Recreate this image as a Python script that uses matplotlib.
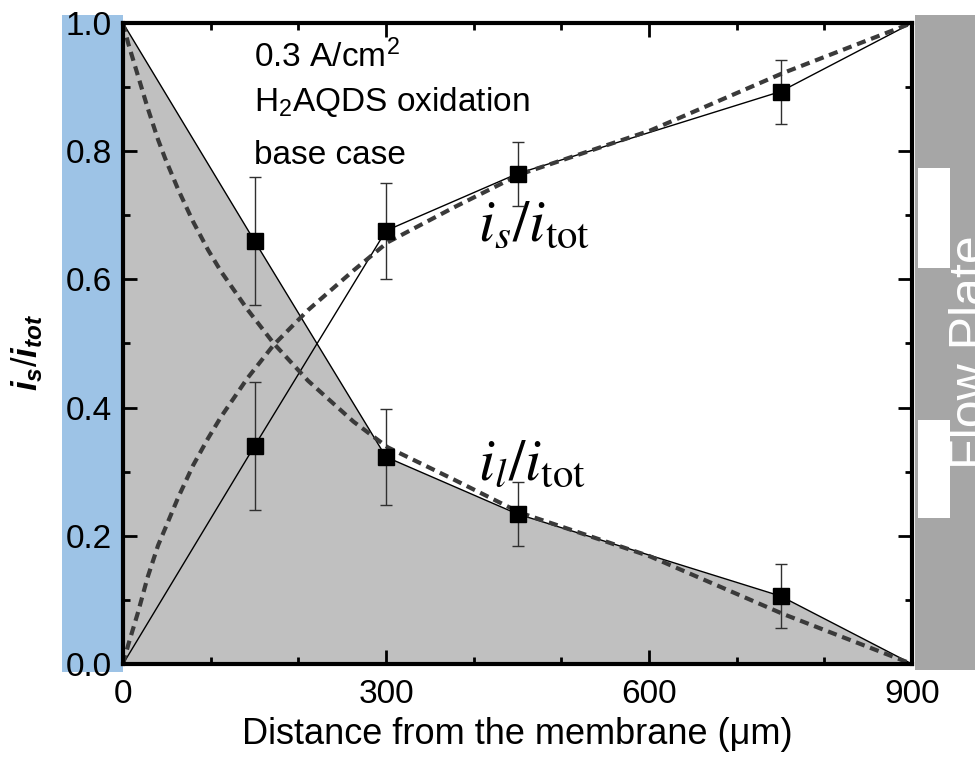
import matplotlib
matplotlib.use("Agg")
import matplotlib.pyplot as plt
from matplotlib.patches import Rectangle
from matplotlib.ticker import MultipleLocator

plt.rcParams['font.family'] = ['Liberation Sans', 'DejaVu Sans']
plt.rcParams['mathtext.fontset'] = 'custom'
plt.rcParams['mathtext.rm'] = 'Liberation Sans'
plt.rcParams['mathtext.it'] = 'Liberation Sans:italic:bold'
plt.rcParams['mathtext.bf'] = 'Liberation Sans:bold'

# ---- data ----
x_exp = [0, 150, 300, 450, 750, 900]
is_exp = [0.0, 0.34, 0.676, 0.765, 0.893, 1.0]
il_exp = [1.0, 0.66, 0.323, 0.234, 0.106, 0.0]
x_err = [150, 300, 450, 750]
is_err_val = [0.34, 0.676, 0.765, 0.893]
il_err_val = [0.66, 0.323, 0.234, 0.106]
err = [0.10, 0.075, 0.05, 0.05]

x_model = [0, 6, 17, 28, 40, 48, 63, 80, 97, 112, 142, 172, 211, 263, 302, 377, 453, 601, 753, 900]
is_model = [0.0, 0.03, 0.08, 0.135, 0.185, 0.211, 0.26, 0.31, 0.352, 0.386, 0.446, 0.498,
            0.552, 0.614, 0.658, 0.712, 0.764, 0.832, 0.922, 1.0]
il_model = [1.0, 0.968, 0.918, 0.868, 0.818, 0.789, 0.74, 0.69, 0.646, 0.612, 0.553, 0.5,
            0.442, 0.378, 0.338, 0.288, 0.236, 0.168, 0.078, 0.0]

x_ticks = [0, 300, 600, 900]
y_ticks = [0.0, 0.2, 0.4, 0.6, 0.8, 1.0]

fig = plt.figure(figsize=(9.75, 7.7), dpi=100)
W, H = 975.0, 770.0

def fr(x0, y0, x1, y1, color, z=0):
    fig.patches.append(Rectangle((x0 / W, 1 - y1 / H), (x1 - x0) / W, (y1 - y0) / H,
                                 transform=fig.transFigure, facecolor=color,
                                 edgecolor='none', zorder=z))

# side bands
fr(62, 15, 123, 672, '#9DC3E6')
fr(915, 15, 975, 670, '#A6A6A6')
fr(918, 168, 950, 268, 'white', 1)
fr(918, 420, 950, 518, 'white', 1)
fig.text(949 / W, 1 - 352 / H, 'Flow Plate', rotation=90, color='white',
         fontsize=36, ha='left', va='center', zorder=1.5)

ax = fig.add_axes([123 / W, 1 - 664 / H, (912 - 123) / W, (664 - 23) / H])
ax.set_zorder(2)
ax.set_xlim(0, 900)
ax.set_ylim(0, 1.0)

ax.fill_between(x_exp, 0, il_exp, color='#C0C0C0', zorder=1, lw=0)
ax.plot(x_exp, is_exp, color='black', lw=1, zorder=3)
ax.plot(x_exp, il_exp, color='black', lw=1, zorder=3)
ax.plot(x_model, is_model, color='#3a3a3a', lw=3, ls=(0, (2.2, 1.4)), zorder=4)
ax.plot(x_model, il_model, color='#3a3a3a', lw=3, ls=(0, (2.2, 1.4)), zorder=4)
ax.errorbar(x_err, is_err_val, yerr=err, fmt='s', color='black', ms=11,
            ecolor='#303030', elinewidth=1, capsize=4.5, capthick=1, zorder=5)
ax.errorbar(x_err, il_err_val, yerr=err, fmt='s', color='black', ms=11,
            ecolor='#303030', elinewidth=1, capsize=4.5, capthick=1, zorder=5)

ax.set_xticks(x_ticks)
ax.set_yticks(y_ticks)
ax.xaxis.set_minor_locator(MultipleLocator(100))
ax.yaxis.set_minor_locator(MultipleLocator(0.1))
ax.set_yticklabels(['%.1f' % v for v in y_ticks])
ax.tick_params(which='both', direction='in', top=True, right=True, width=2, labelsize=24)
ax.tick_params(which='major', length=10, pad=8)
ax.tick_params(axis='x', which='major', pad=11)
ax.tick_params(which='minor', length=5)
for s in ax.spines.values():
    s.set_linewidth(3)
    s.set_zorder(6)

ax.set_xlabel('Distance from the membrane (\u03bcm)', fontsize=26, labelpad=5)
fig.text(27 / W, 1 - 352 / H, r'$i_s/i_{tot}$', rotation=90, fontsize=25,
         ha='center', va='center')

ax.text(150, 0.931, '0.3 A/cm$^2$', fontsize=24, ha='left', va='baseline')
ax.text(150, 0.8625, 'H$_2$AQDS oxidation', fontsize=24, ha='left', va='baseline')
ax.text(150, 0.78, 'base case', fontsize=24, ha='left', va='baseline')

ax.text(405, 0.66, r'$i_s/i_{\mathrm{tot}}$', fontsize=42, math_fontfamily='stix',
        ha='left', va='baseline')
ax.text(405, 0.287, r'$i_l/i_{\mathrm{tot}}$', fontsize=42, math_fontfamily='stix',
        ha='left', va='baseline')

fig.savefig('out.png', dpi=100)
